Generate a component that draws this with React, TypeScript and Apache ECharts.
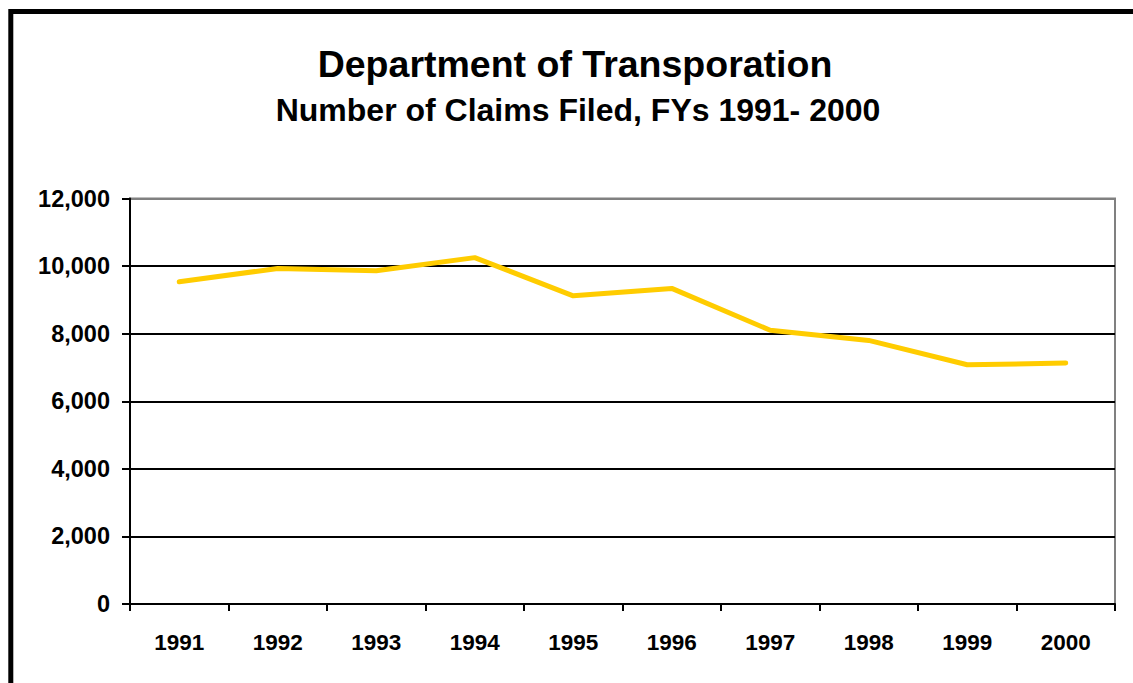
import React, { useEffect, useRef } from "react";
import * as echarts from "echarts";

const years = ["1991", "1992", "1993", "1994", "1995", "1996", "1997", "1998", "1999", "2000"];
const claims = [9535, 9930, 9860, 10250, 9120, 9340, 8100, 7800, 7080, 7130];
const titleText = "Department of Transporation";
const subtitleText = "Number of Claims Filed, FYs 1991- 2000";

export default function App() {
  const ref = useRef<HTMLDivElement>(null);
  useEffect(() => {
    if (!ref.current) return;
    const chart = echarts.init(ref.current, null, { renderer: "svg" });
    const font = "Liberation Sans, Arial, sans-serif";
    chart.setOption({
      animation: false,
      backgroundColor: "#fff",
      title: [
        {
          text: titleText,
          left: 570,
          textAlign: "center",
          top: 40,
          textStyle: { fontFamily: font, fontWeight: "bold", fontSize: 37.5, color: "#000" },
        },
        {
          text: subtitleText,
          left: 573,
          textAlign: "center",
          top: 89,
          textStyle: { fontFamily: font, fontWeight: "bold", fontSize: 32, color: "#000" },
        },
      ],
      graphic: [
        {
          type: "rect",
          shape: { x: 10.8, y: 11.5, width: 1400, height: 1000 },
          style: { fill: "none", stroke: "#000", lineWidth: 5 },
          silent: true,
        },
      ],
      grid: {
        left: 130,
        right: 18,
        top: 198.5,
        bottom: 79,
        show: true,
        borderColor: "#808080",
        borderWidth: 2,
        backgroundColor: "transparent",
      },
      xAxis: {
        type: "category",
        data: years,
        boundaryGap: true,
        axisLine: { lineStyle: { color: "#000", width: 2 } },
        axisTick: { show: true, alignWithLabel: false, length: 7, lineStyle: { color: "#000", width: 2 } },
        axisLabel: { margin: 27, fontFamily: font, fontWeight: "bold", fontSize: 22.5, color: "#000" },
        splitLine: { show: false },
      },
      yAxis: {
        type: "value",
        min: 0,
        max: 12000,
        interval: 2000,
        axisLine: { show: true, lineStyle: { color: "#000", width: 2 } },
        axisTick: { show: true, length: 8, lineStyle: { color: "#000", width: 2 } },
        axisLabel: {
          margin: 20,
          fontFamily: font,
          fontWeight: "bold",
          fontSize: 23.5,
          color: "#000",
          formatter: (v: number) => v.toLocaleString("en-US"),
        },
        splitLine: {
          show: true,
          lineStyle: { color: ["#000", "#000", "#000", "#000", "#000", "#000", "#808080"], width: 2 },
        },
      },
      series: [
        {
          type: "line",
          data: claims,
          showSymbol: false,
          symbol: "none",
          lineStyle: { color: "#FFCC00", width: 5, cap: "round", join: "round" },
          z: 5,
        },
      ],
    });
    return () => chart.dispose();
  }, []);
  return (
    <div
      ref={ref}
      style={{ position: "fixed", left: 0, top: 0, width: 1133, height: 683, background: "#fff" }}
    />
  );
}
